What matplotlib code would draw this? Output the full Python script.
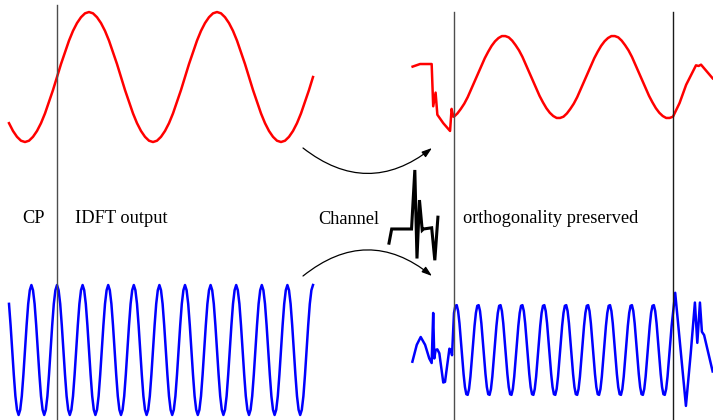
import numpy as np
import matplotlib
matplotlib.use("Agg")
import matplotlib.pyplot as plt
from matplotlib.patches import FancyArrowPatch

# transmitted red subcarrier: 12 CP samples + 65 symbol samples (64 per symbol)
tx_red = [-0.71, -0.83, -0.92, -0.98, -1.00, -0.98, -0.92, -0.83, -0.71, -0.56, -0.38, -0.20,
          0.00, 0.20, 0.38, 0.56, 0.71, 0.83, 0.92, 0.98, 1.00, 0.98, 0.92, 0.83, 0.71, 0.56, 0.38, 0.20,
          0.00, -0.20, -0.38, -0.56, -0.71, -0.83, -0.92, -0.98, -1.00, -0.98, -0.92, -0.83, -0.71, -0.56, -0.38, -0.20,
          0.00, 0.20, 0.38, 0.56, 0.71, 0.83, 0.92, 0.98, 1.00, 0.98, 0.92, 0.83, 0.71, 0.56, 0.38, 0.20,
          0.00, -0.20, -0.38, -0.56, -0.71, -0.83, -0.92, -0.98, -1.00, -0.98, -0.92, -0.83, -0.71, -0.56, -0.38, -0.20,
          0.00]

# transmitted blue subcarrier: 30 CP samples + 161 symbol samples (160 per symbol)
tx_blue_cp = [0.71, 0.38, 0.00, -0.38, -0.71, -0.92, -1.00, -0.92, -0.71, -0.38, 0.00, 0.38, 0.71, 0.92,
              1.00, 0.92, 0.71, 0.38, 0.00, -0.38, -0.71, -0.92, -1.00, -0.92, -0.71, -0.38, 0.00, 0.38, 0.71, 0.92]
tx_blue_cycle = [1.00, 0.92, 0.71, 0.38, 0.00, -0.38, -0.71, -0.92, -1.00, -0.92, -0.71, -0.38, 0.00, 0.38, 0.71, 0.92]
tx_blue = tx_blue_cp + tx_blue_cycle * 10 + [1.00]

# received red: transient inside the CP, clean symbol, start of next symbol
rx_red_head_t = [-0.189, -0.155, -0.102, -0.095, -0.084, -0.076, -0.049, -0.018, -0.011, -0.003]
rx_red_head_v = [0.16, 0.20, 0.20, -0.45, -0.24, -0.58, -0.71, -0.83, -0.49, -0.61]
rx_red = [-0.61, -0.56, -0.49, -0.41, -0.31, -0.19, -0.07, 0.05, 0.17, 0.29, 0.39, 0.48, 0.55, 0.60, 0.63, 0.63,
          0.61, 0.56, 0.49, 0.41, 0.31, 0.19, 0.07, -0.05, -0.17, -0.29, -0.39, -0.48, -0.55, -0.60, -0.63, -0.63,
          -0.61, -0.56, -0.49, -0.41, -0.31, -0.19, -0.07, 0.05, 0.17, 0.29, 0.39, 0.48, 0.55, 0.60, 0.63, 0.63,
          0.61, 0.56, 0.49, 0.41, 0.31, 0.19, 0.07, -0.05, -0.17, -0.29, -0.39, -0.48, -0.55, -0.60, -0.63, -0.63,
          -0.61]
rx_red_tail_t = [1.03, 1.06, 1.09, 1.105, 1.117, 1.128, 1.181]
rx_red_tail_v = [-0.40, -0.12, 0.08, 0.18, 0.17, 0.19, -0.02]

# received blue
rx_blue_head_t = [-0.190, -0.170, -0.152, -0.132, -0.113, -0.102, -0.095, -0.090, -0.084, -0.076,
                  -0.067, -0.049, -0.041, -0.021, -0.014, -0.009]
rx_blue_head_v = [-0.18, 0.08, 0.20, 0.08, -0.13, -0.20, 0.57, -0.13, 0.00, 0.01,
                  -0.05, -0.50, -0.49, 0.02, 0.00, -0.08]
rx_blue_cycle = [0.57, 0.68, 0.69, 0.60, 0.41, 0.16, -0.11, -0.37, -0.57, -0.68, -0.69, -0.60, -0.41, -0.16, 0.11, 0.37]
rx_blue = rx_blue_cycle * 10 + [0.57]
rx_blue_tail_t = [1.010, 1.035, 1.059, 1.081, 1.100, 1.111, 1.123, 1.132, 1.142, 1.181]
rx_blue_tail_v = [0.88, 0.00, -0.86, -0.05, 0.73, 0.11, 0.73, 0.28, 0.23, -0.33]

# channel impulse response glyph
chan_t = [0.0, 0.055, 0.46, 0.527, 0.571, 0.622, 0.678, 0.704, 0.871, 0.935, 0.998]
chan_h = [-0.24, 0.0, 0.0, 1.0, -0.50, 0.49, -0.02, 0.0, 0.02, -0.53, 0.20]

labels = ["CP", "IDFT output", "Channel", "orthogonality preserved"]

W, H = 713, 420
fig = plt.figure(figsize=(W / 100, H / 100), dpi=100)
plt.rcParams['font.family'] = ['Liberation Serif', 'DejaVu Serif']

blue_off = -4.2
ylim = (-5.277, 1.185)
red_c = '#ff0000'
blue_c = '#0000ff'
lw = 1.8

# annotation layer in pixel units
ov = fig.add_axes([0, 0, 1, 1])
ov.set_xlim(0, W)
ov.set_ylim(H, 0)
ov.axis('off')

fs = 13.2
ov.text(22, 223, labels[0], fontsize=fs, ha='left', va='baseline')
ov.text(75, 223, labels[1], fontsize=fs, ha='left', va='baseline')
ov.text(318, 224, labels[2], fontsize=fs, ha='left', va='baseline')
ov.text(463, 223, labels[3], fontsize=fs, ha='left', va='baseline')

for (p0, p1, rad) in [((303, 148), (432, 148), 0.39), ((303, 276), (432, 276), -0.40)]:
    ov.add_patch(FancyArrowPatch(p0, p1, connectionstyle=f"arc3,rad={rad}",
                                 arrowstyle="-|>,head_length=6,head_width=2",
                                 lw=0.9, color='black', shrinkA=0, shrinkB=0))

# transmitter side
ax_tx = fig.add_axes([57 / W, 0, 256 / W, 1])
ax_tx.set_xlim(0, 1)
ax_tx.set_ylim(*ylim)
ax_tx.axis('off')
t_red = np.arange(-12, 65) / 64
t_blue = np.arange(-30, 161) / 160
ax_tx.plot(t_red, np.array(tx_red), color=red_c, lw=lw, clip_on=False)
ax_tx.plot(t_blue, np.array(tx_blue) + blue_off, color=blue_c, lw=lw, clip_on=False)
ax_tx.axvline(0, ymin=0, ymax=0.988, color='0.3', lw=1.0, clip_on=False)

# receiver side
ax_rx = fig.add_axes([454 / W, 0, 219 / W, 1])
ax_rx.set_xlim(0, 1)
ax_rx.set_ylim(*ylim)
ax_rx.axis('off')
tr = np.concatenate([rx_red_head_t, np.arange(65) / 64, rx_red_tail_t])
vr = np.concatenate([rx_red_head_v, rx_red, rx_red_tail_v])
tb = np.concatenate([rx_blue_head_t, np.arange(161) / 160, rx_blue_tail_t])
vb = np.concatenate([rx_blue_head_v, rx_blue, rx_blue_tail_v])
ax_rx.plot(tr, vr, color=red_c, lw=lw, clip_on=False)
ax_rx.plot(tb, vb + blue_off, color=blue_c, lw=lw, clip_on=False)
ax_rx.axvline(0, ymin=0, ymax=0.971, color='0.3', lw=1.0, clip_on=False)
ax_rx.axvline(1, ymin=0, ymax=0.971, color='0.1', lw=1.0, clip_on=False)

# channel glyph
ax_ch = fig.add_axes([389 / W, 1 - 270 / H, 49 / W, 110 / H])
ax_ch.set_xlim(0, 1)
ax_ch.set_ylim(-0.695, 1.169)
ax_ch.axis('off')
ax_ch.plot(chan_t, chan_h, color='black', lw=2.2, solid_joinstyle='miter', clip_on=False)

fig.savefig('out.png', dpi=100)
